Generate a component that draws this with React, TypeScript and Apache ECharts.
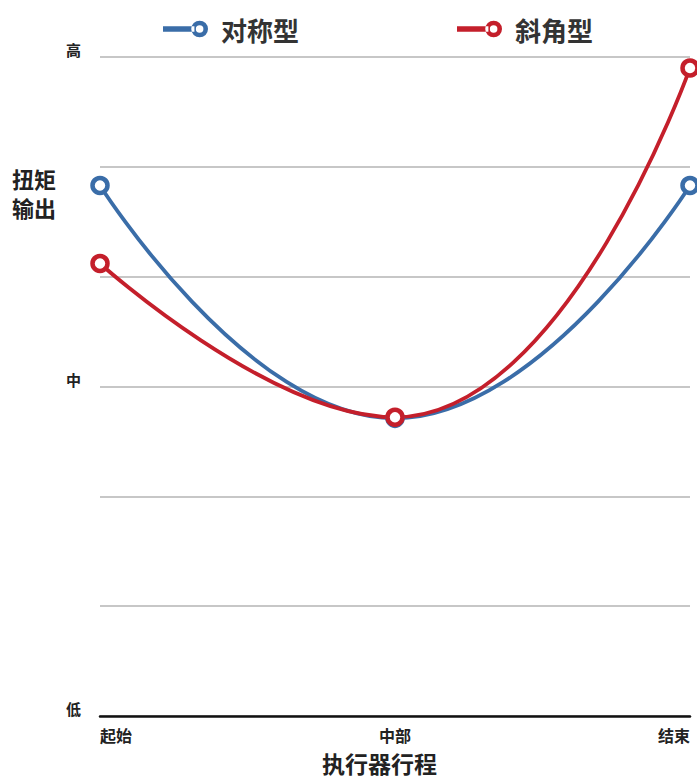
import React, { useEffect, useRef } from "react";
import * as echarts from "echarts";

const categories = ["起始", "中部", "结束"];
const symmetricValues = [4.83, 2.71, 4.83];
const obliqueValues = [4.12, 2.72, 5.9];
const yTickLabels: Record<number, string> = { 0: "低", 3: "中", 6: "高" };
const seriesNames = ["对称型", "斜角型"];
const yAxisTitle = "扭矩\n输出";
const xAxisTitle = "执行器行程";

const FONT = "'Noto Sans CJK SC', 'Noto Sans', sans-serif";
const BLUE = "#3a6da8";
const RED = "#c41f2b";

const LEGEND_ICON =
  "path://M0,5.3 L30,5.3 L30,10.7 L0,10.7 Z " +
  "M43,8 A8,8 0 1,0 27,8 A8,8 0 1,0 43,8 Z " +
  "M38.6,8 A3.6,3.6 0 1,1 31.4,8 A3.6,3.6 0 1,1 38.6,8 Z";

export default function App() {
  const ref = useRef<HTMLDivElement>(null);
  useEffect(() => {
    if (!ref.current) return;
    const chart = echarts.init(ref.current, null, { renderer: "svg" });
    const mkSeries = (name: string, data: number[], color: string) => ({
      name,
      type: "line",
      data,
      smooth: 0.5,
      symbol: "circle",
      symbolSize: 15,
      lineStyle: { color, width: 3.8 },
      itemStyle: { color: "#ffffff", borderColor: color, borderWidth: 4.5 },
    });
    chart.setOption({
      animation: false,
      backgroundColor: "#ffffff",
      grid: { left: 100, right: 7, top: 57, bottom: 63 },
      legend: {
        top: 11,
        left: 158,
        itemGap: 158,
        itemWidth: 45,
        itemHeight: 18,
        icon: LEGEND_ICON,
        textStyle: {
          fontFamily: FONT,
          fontSize: 26,
          fontWeight: "bold",
          color: "#333",
          padding: [0, 0, 0, 8],
        },
        data: [
          { name: seriesNames[0], itemStyle: { color: BLUE, borderWidth: 0 } },
          { name: seriesNames[1], itemStyle: { color: RED, borderWidth: 0 } },
        ],
      },
      xAxis: {
        type: "category",
        data: categories,
        boundaryGap: false,
        axisLine: { lineStyle: { color: "#111", width: 2.5 } },
        axisTick: { show: false },
        axisLabel: {
          fontFamily: FONT,
          fontSize: 16,
          fontWeight: "bold",
          color: "#222",
          margin: 11,
          alignMinLabel: "left",
          alignMaxLabel: "right",
        },
        splitLine: { show: false },
      },
      yAxis: {
        type: "value",
        min: 0,
        max: 6,
        interval: 1,
        axisLine: { show: false },
        axisTick: { show: false },
        axisLabel: {
          fontFamily: FONT,
          fontSize: 15,
          fontWeight: "bold",
          color: "#222",
          margin: 19,
          verticalAlign: "bottom",
          formatter: (v: number) => yTickLabels[v] ?? "",
        },
        splitLine: { lineStyle: { color: "#b5b5b5", width: 1.5 } },
      },
      graphic: [
        {
          type: "text",
          left: 322,
          top: 751,
          style: {
            text: xAxisTitle,
            fontFamily: FONT,
            fontSize: 23,
            fontWeight: "bold",
            fill: "#222",
          },
        },
        {
          type: "text",
          left: 12,
          top: 163,
          style: {
            text: yAxisTitle,
            fontFamily: FONT,
            fontSize: 22,
            fontWeight: "bold",
            fill: "#222",
            lineHeight: 29,
          },
        },
      ],
      series: [
        mkSeries(seriesNames[0], symmetricValues, BLUE),
        mkSeries(seriesNames[1], obliqueValues, RED),
      ],
    });
    return () => chart.dispose();
  }, []);
  return (
    <div
      ref={ref}
      style={{ position: "fixed", left: 0, top: 0, width: 697, height: 779 }}
    />
  );
}
